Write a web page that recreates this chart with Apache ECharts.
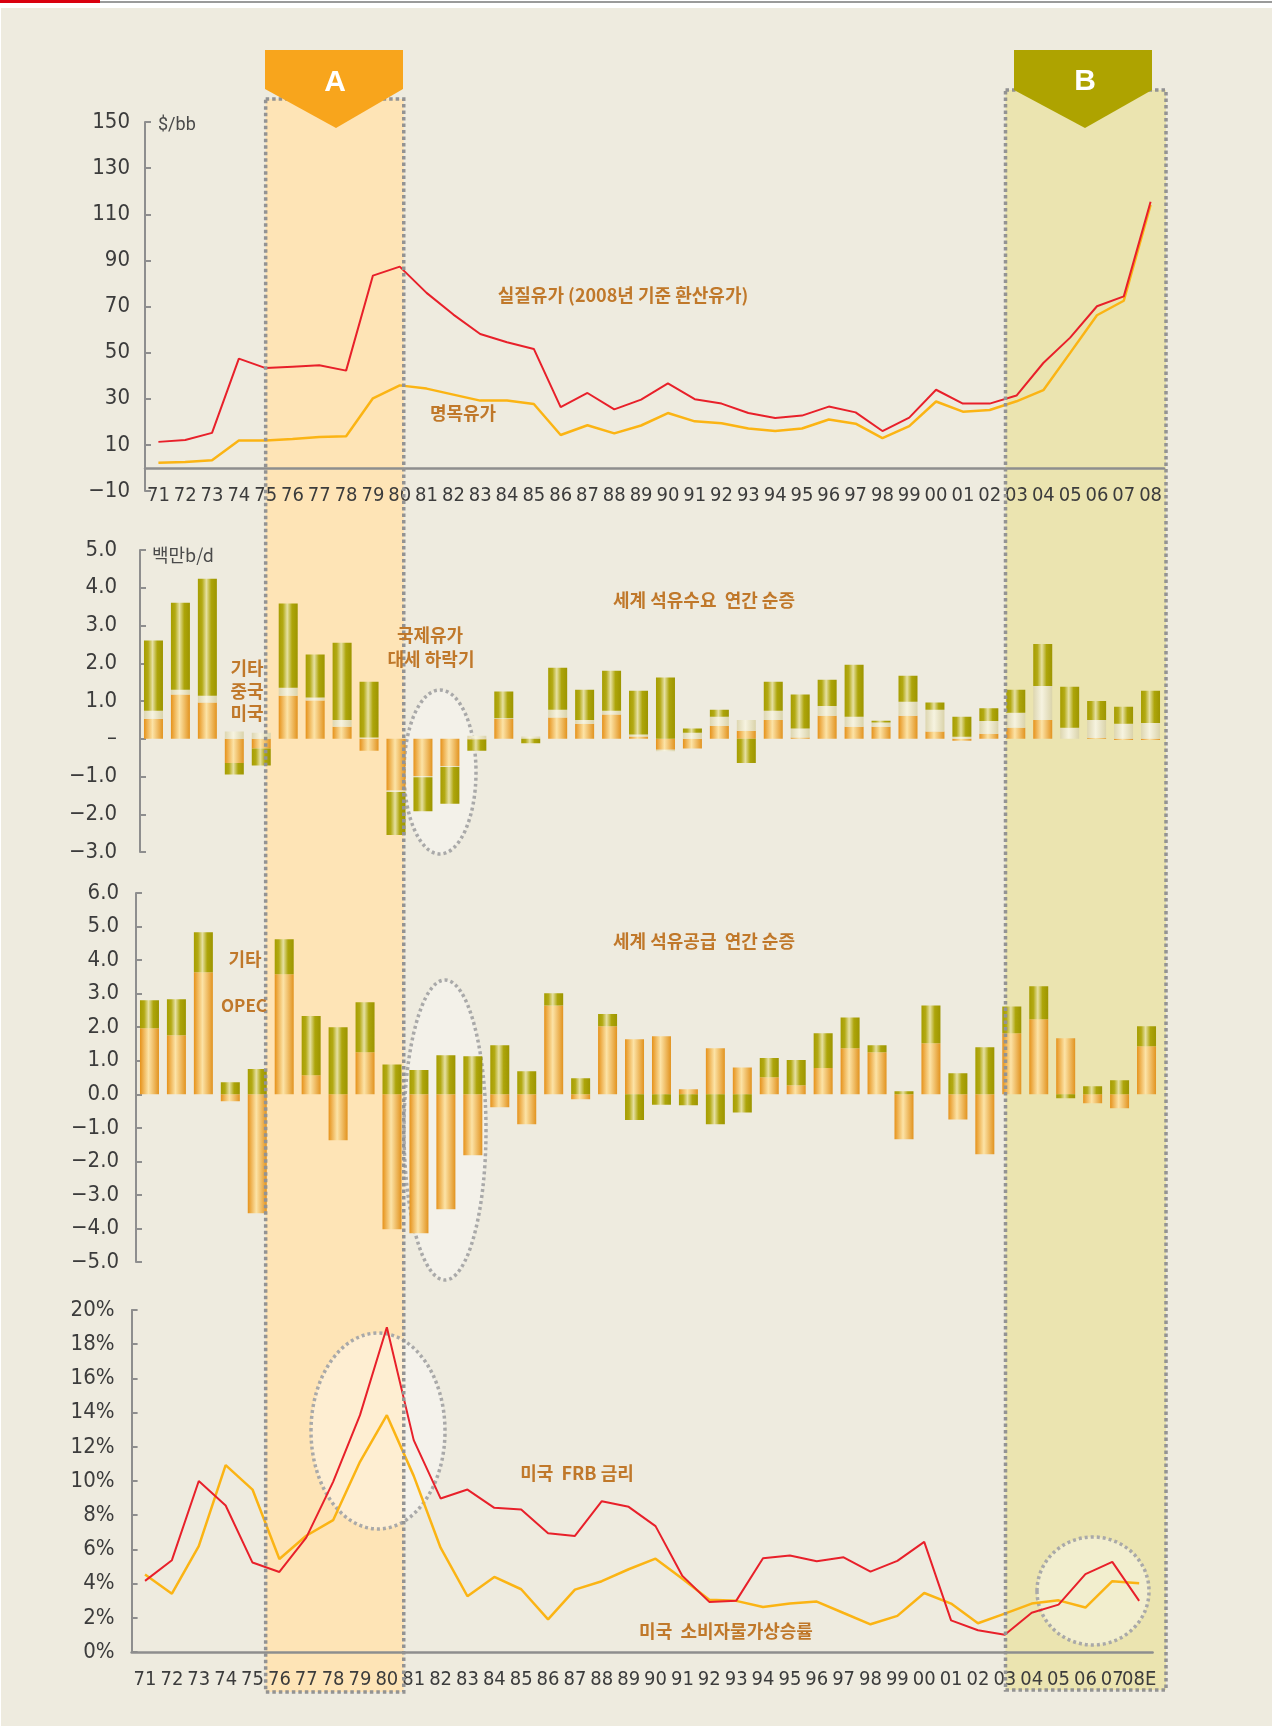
<!DOCTYPE html>
<html>
<head>
<meta charset="utf-8">
<script src="https://cdn.jsdelivr.net/npm/echarts@6/dist/echarts.min.js"></script>
<style>
  html, body { margin: 0; padding: 0; background: #fff; }
  #chart { width: 1272px; height: 1726px; }
</style>
</head>
<body>
<div id="chart"></div>
<script>
// 연도 (71 ~ 08)
const years = ['71','72','73','74','75','76','77','78','79','80',
               '81','82','83','84','85','86','87','88','89','90',
               '91','92','93','94','95','96','97','98','99','00',
               '01','02','03','04','05','06','07','08'];
const rateYears = ['71','72','73','74','75','76','77','78','79','80',
                   '81','82','83','84','85','86','87','88','89','90',
                   '91','92','93','94','95','96','97','98','99','00',
                   '01','02','03','04','05','06','07','08E'];

// 유가 ($/bb)
const realPrice = [11.3, 12.1, 15.2, 47.4, 43.3, 43.9, 44.5, 42.2, 83.4, 87.3,
                   75.9, 66.5, 58.1, 54.5, 51.6, 26.4, 32.5, 25.4, 29.6, 36.7,
                   29.8, 27.9, 23.8, 21.7, 22.7, 26.6, 24.1, 16.0, 21.8, 33.9,
                   27.9, 27.9, 31.4, 45.5, 56.5, 70.1, 74.4, 115.4];
const nominalPrice = [2.3, 2.6, 3.3, 11.9, 11.9, 12.6, 13.4, 13.7, 30.2, 35.8,
                      34.4, 31.8, 29.2, 29.2, 27.7, 14.3, 18.5, 15.0, 18.4, 23.8,
                      20.2, 19.4, 17.1, 16.0, 17.1, 21.0, 19.2, 12.9, 18.1, 28.8,
                      24.4, 25.1, 28.9, 33.7, 49.9, 66.2, 72.5, 114.0];

// 세계 석유수요 연간 순증 (백만b/d)
const usDemand = [0.53, 1.17, 0.96, -0.64, -0.26, 1.14, 1.01, 0.32, -0.32, -1.37,
                  -0.99, -0.72, -0.02, 0.52, 0, 0.56, 0.40, 0.64, 0.06, -0.29,
                  -0.26, 0.34, 0.21, 0.50, 0.03, 0.61, 0.32, 0.32, 0.61, 0.19,
                  -0.05, 0.13, 0.29, 0.50, 0, 0.02, -0.03, -0.03];
const cnDemand = [0.21, 0.13, 0.18, 0.19, 0.16, 0.21, 0.08, 0.18, 0.03, -0.04,
                  -0.03, -0.03, 0.08, 0.02, 0.06, 0.21, 0.10, 0.10, 0.05, -0.04,
                  0.16, 0.24, 0.29, 0.24, 0.24, 0.26, 0.26, 0.11, 0.37, 0.58,
                  0.05, 0.34, 0.40, 0.90, 0.29, 0.48, 0.40, 0.42];
const otherDemand = [1.86, 2.30, 3.10, -0.31, -0.45, 2.23, 1.14, 2.04, 1.48, -1.14,
                     -0.90, -0.97, -0.30, 0.71, -0.12, 1.11, 0.80, 1.06, 1.16, 1.62,
                     0.11, 0.19, -0.64, 0.77, 0.90, 0.69, 1.38, 0.05, 0.69, 0.19,
                     0.53, 0.34, 0.61, 1.11, 1.09, 0.50, 0.45, 0.85];

// 세계 석유공급 연간 순증
const opecSupply = [1.97, 1.76, 3.64, -0.21, -3.55, 3.58, 0.57, -1.37, 1.25, -4.02,
                    -4.14, -3.43, -1.82, -0.39, -0.89, 2.65, -0.15, 2.03, 1.64, 1.73,
                    0.15, 1.37, 0.80, 0.51, 0.27, 0.78, 1.37, 1.25, -1.34, 1.52,
                    -0.75, -1.79, 1.82, 2.24, 1.67, -0.27, -0.42, 1.43];
const otherSupply = [0.83, 1.07, 1.19, 0.36, 0.75, 1.04, 1.76, 2.00, 1.49, 0.89,
                     0.72, 1.16, 1.13, 1.46, 0.69, 0.36, 0.48, 0.36, -0.77, -0.31,
                     -0.33, -0.89, -0.54, 0.57, 0.75, 1.04, 0.92, 0.21, 0.09, 1.13,
                     0.63, 1.40, 0.80, 0.98, -0.12, 0.24, 0.42, 0.60];

// 미국 FRB 금리 / 소비자물가상승률 (%)
const fedRate = [4.16, 5.37, 10.0, 8.57, 5.23, 4.68, 6.69, 9.95, 13.85, 18.99,
                 12.39, 8.98, 9.5, 8.43, 8.33, 6.95, 6.79, 8.82, 8.49, 7.36,
                 4.45, 2.93, 2.99, 5.48, 5.64, 5.31, 5.54, 4.70, 5.33, 6.44,
                 1.85, 1.27, 1.01, 2.30, 2.77, 4.55, 5.27, 2.99];
const cpi = [4.53, 3.41, 6.19, 10.93, 9.50, 5.44, 6.8, 7.71, 11.12, 13.85,
             10.3, 6.1, 3.26, 4.39, 3.67, 1.91, 3.65, 4.14, 4.84, 5.46,
             4.29, 3.06, 2.99, 2.63, 2.83, 2.95, 2.28, 1.62, 2.11, 3.45,
             2.83, 1.68, 2.24, 2.83, 3.02, 2.60, 4.14, 4.02];

const numFont = "'Liberation Sans Narrow', 'DejaVu Sans Condensed', 'Roboto Condensed', Roboto, sans-serif";
const korFont = "'Noto Sans CJK KR', 'Noto Sans', sans-serif";
const axisGrey = '#8e8e8e';
const noteColor = '#c0782a';

function barGradient(stops) {
    return {
        type: 'linear', x: 0, y: 0, x2: 1, y2: 0,
        colorStops: stops.map(s => ({ offset: s[0], color: s[1] }))
    };
}
const orangeFill = barGradient([[0, '#e6921a'], [0.45, '#fce3a6'], [1, '#e2931f']]);
const oliveFill = barGradient([[0, '#a69d00'], [0.22, '#b3aa14'], [0.45, '#e6e0a2'], [0.7, '#ada50a'], [1, '#9d9500']]);
const paleFill = barGradient([[0, '#ddd6b0'], [0.45, '#f6f3e0'], [1, '#dad3aa']]);

function valueAxis(gridIndex, min, max, interval, margin, formatter) {
    return {
        type: 'value', gridIndex: gridIndex, min: min, max: max, interval: interval,
        axisLine: { show: true, lineStyle: { color: axisGrey, width: 2 } },
        axisTick: { show: true, inside: true, length: 6, lineStyle: { color: axisGrey, width: 2 } },
        splitLine: { show: false },
        axisLabel: { margin: margin, color: '#3c3c3c', fontSize: 22, fontFamily: numFont, formatter: formatter }
    };
}
function minus(v, digits) {
    const s = Math.abs(v).toFixed(digits);
    return v < 0 ? '\u2212' + s : s;
}

const chart = echarts.init(document.getElementById('chart'));

const option = {
    backgroundColor: '#ffffff',
    animation: false,
    grid: [
        { left: 145, top: 122, width: 1019, height: 369 },
        { left: 140, top: 550, width: 1024, height: 302 },
        { left: 136, top: 893, width: 1024, height: 369 },
        { left: 131.6, top: 1310, width: 1021, height: 342 }
    ],
    xAxis: [
        {
            type: 'category', gridIndex: 0, data: years, boundaryGap: true,
            axisLine: { onZero: true, lineStyle: { color: axisGrey, width: 2.5 } },
            axisTick: { inside: true, length: 6, lineStyle: { color: axisGrey, width: 2 } },
            // 라벨은 그리드 하단 기준으로 놓이므로 음수 여백으로 올린다
            axisLabel: { interval: 0, margin: -5, color: '#3c3c3c', fontSize: 20, fontFamily: numFont }
        },
        { type: 'category', gridIndex: 1, data: years, show: false },
        { type: 'category', gridIndex: 2, data: years, show: false },
        {
            type: 'category', gridIndex: 3, data: rateYears, boundaryGap: true,
            axisLine: { lineStyle: { color: axisGrey, width: 2.5 } },
            axisTick: { inside: true, length: 6, lineStyle: { color: axisGrey, width: 2 } },
            axisLabel: { interval: 0, margin: 18, color: '#3c3c3c', fontSize: 20, fontFamily: numFont }
        }
    ],
    yAxis: [
        valueAxis(0, -10, 150, 20, 15, v => minus(v, 0)),
        valueAxis(1, -3, 5, 1, 23, v => (v === 0 ? '\u2013' : minus(v, 1))),
        valueAxis(2, -5, 6, 1, 17, v => minus(v, 1)),
        valueAxis(3, 0, 20, 2, 17, v => v + '%')
    ],
    series: [
        {
            name: '명목유가', type: 'line', xAxisIndex: 0, yAxisIndex: 0, data: nominalPrice,
            symbol: 'none', lineStyle: { color: '#fbb414', width: 2.5 }, z: 3
        },
        {
            name: '실질유가', type: 'line', xAxisIndex: 0, yAxisIndex: 0, data: realPrice,
            symbol: 'none', lineStyle: { color: '#e8202a', width: 2 }, z: 4
        },
        {
            name: '미국', type: 'bar', xAxisIndex: 1, yAxisIndex: 1, stack: 'demand',
            barWidth: 19, data: usDemand, itemStyle: { color: orangeFill }
        },
        {
            name: '중국', type: 'bar', xAxisIndex: 1, yAxisIndex: 1, stack: 'demand',
            barWidth: 19, data: cnDemand, itemStyle: { color: paleFill }
        },
        {
            name: '기타', type: 'bar', xAxisIndex: 1, yAxisIndex: 1, stack: 'demand',
            barWidth: 19, data: otherDemand, itemStyle: { color: oliveFill }
        },
        {
            name: 'OPEC', type: 'bar', xAxisIndex: 2, yAxisIndex: 2, stack: 'supply',
            barWidth: 19, data: opecSupply, itemStyle: { color: orangeFill }
        },
        {
            name: '기타공급', type: 'bar', xAxisIndex: 2, yAxisIndex: 2, stack: 'supply',
            barWidth: 19, data: otherSupply, itemStyle: { color: oliveFill }
        },
        {
            name: '미국 소비자물가상승률', type: 'line', xAxisIndex: 3, yAxisIndex: 3, data: cpi,
            symbol: 'none', lineStyle: { color: '#fbb414', width: 2.5 }, z: 3
        },
        {
            name: '미국 FRB 금리', type: 'line', xAxisIndex: 3, yAxisIndex: 3, data: fedRate,
            symbol: 'none', lineStyle: { color: '#e8202a', width: 2 }, z: 4
        }
    ]
};
chart.setOption(option);

// 배경, 구간 A/B, 점선 타원, 주석
function note(text, x, y, size, align) {
    return {
        type: 'text', z: 20,
        style: {
            text: text, x: x, y: y, fill: noteColor,
            font: 'bold ' + (size || 18) + 'px ' + korFont,
            textAlign: align || 'center', align: align || 'center',
            textVerticalAlign: 'middle', verticalAlign: 'middle'
        }
    };
}
function ellipse(cx, cy, rx, ry, fill, z) {
    return {
        type: 'ellipse', z: z,
        shape: { cx: cx, cy: cy, rx: rx, ry: ry },
        style: { fill: fill, stroke: '#a9a9a9', lineWidth: 3.5, lineDash: [3, 3] }
    };
}

const gridTop = chart.getModel().getComponent('grid', 0).coordinateSystem.getRect();
const xA0 = chart.convertToPixel({ xAxisIndex: 0 }, '75');
const xA1 = chart.convertToPixel({ xAxisIndex: 0 }, '80') + 4;
const xB0 = chart.convertToPixel({ xAxisIndex: 0 }, '03') - 11;
const xB1 = gridTop.x + gridTop.width + 2;
const bandTop = 99, bandBottom = 1692;

chart.setOption({
    graphic: [
        { type: 'rect', z: -5, shape: { x: 1, y: 8, width: 1271, height: 1718 }, style: { fill: '#eeebdf' } },
        { type: 'rect', z: -5, shape: { x: 0, y: 0, width: 100, height: 3 }, style: { fill: '#d9000f' } },
        { type: 'rect', z: -5, shape: { x: 100, y: 1, width: 1172, height: 2 }, style: { fill: '#9a9a9a' } },

        { type: 'rect', z: -4, shape: { x: xA0, y: bandTop, width: xA1 - xA0, height: bandBottom - bandTop }, style: { fill: '#fee4b6' } },
        { type: 'rect', z: -4, shape: { x: xB0, y: bandTop - 9, width: xB1 - xB0, height: bandBottom - bandTop + 7 }, style: { fill: '#ebe4b0' } },

        ellipse(440, 772, 36, 82, '#f3f1e9', -3),
        ellipse(445, 1130, 41, 150, '#f3f1e9', -3),
        ellipse(378, 1431, 67, 98, 'rgba(255,255,255,0.38)', 1),
        ellipse(1093, 1591, 56, 54, 'rgba(255,255,255,0.38)', 1),

        { type: 'rect', z: 10, shape: { x: xA0, y: bandTop, width: xA1 - xA0, height: bandBottom - bandTop },
          style: { fill: 'none', stroke: '#939393', lineWidth: 3.5, lineDash: [3.5, 3] } },
        { type: 'rect', z: 10, shape: { x: xB0, y: bandTop - 9, width: xB1 - xB0, height: bandBottom - bandTop + 7 },
          style: { fill: 'none', stroke: '#939393', lineWidth: 3.5, lineDash: [3.5, 3] } },

        { type: 'polygon', z: 12, shape: { points: [[265, 50], [403, 50], [403, 89], [336, 128], [265, 89]] }, style: { fill: '#f8a51c' } },
        { type: 'polygon', z: 12, shape: { points: [[1014, 50], [1152, 50], [1152, 90], [1085, 128], [1014, 90]] }, style: { fill: '#aea300' } },
        { type: 'text', z: 13, style: { text: 'A', x: 335, y: 83, fill: '#ffffff', font: 'bold 30px Arial, sans-serif',
            textAlign: 'center', align: 'center', textVerticalAlign: 'middle', verticalAlign: 'middle' } },
        { type: 'text', z: 13, style: { text: 'B', x: 1085, y: 82, fill: '#ffffff', font: 'bold 30px Arial, sans-serif',
            textAlign: 'center', align: 'center', textVerticalAlign: 'middle', verticalAlign: 'middle' } },

        { type: 'text', z: 20, style: { text: '$/bb', x: 158, y: 125, fill: '#4a4a4a', font: '18px Roboto, sans-serif',
            textAlign: 'left', align: 'left', textVerticalAlign: 'middle', verticalAlign: 'middle' } },
        { type: 'text', z: 20, style: { text: '백만b/d', x: 152, y: 555, fill: '#4a4a4a', font: '18px ' + korFont,
            textAlign: 'left', align: 'left', textVerticalAlign: 'middle', verticalAlign: 'middle' } },

        note('실질유가 (2008년 기준 환산유가)', 623, 295),
        note('명목유가', 463, 413),
        note('기타', 247, 668),
        note('중국', 247, 691),
        note('미국', 247, 713),
        note('국제유가', 430, 635),
        note('대세 하락기', 431, 659),
        note('세계 석유수요  연간 순증', 704, 600),
        note('기타', 245, 959),
        note('OPEC', 244, 1006, 17),
        note('세계 석유공급  연간 순증', 704, 941),
        note('미국  FRB 금리', 577, 1473),
        note('미국  소비자물가상승률', 726, 1631)
    ]
});

window.addEventListener('resize', function() {
    chart.resize();
});
</script>
</body>
</html>
